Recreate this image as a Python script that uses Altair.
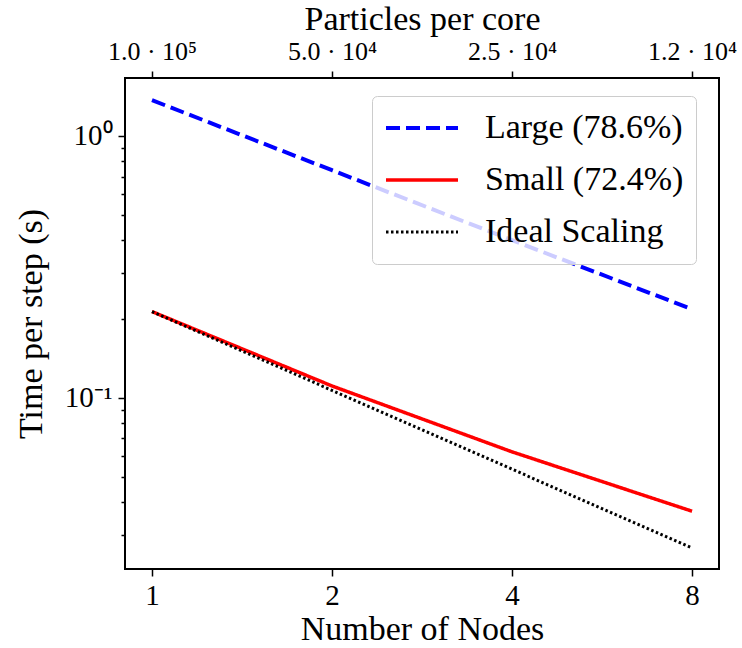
import altair as alt
import pandas as pd

# ---- data ----
nodes = [1, 2, 4, 8]
large = [1.37, 0.74, 0.40, 0.218]
small = [0.2135, 0.111, 0.0622, 0.0369]
ideal = [0.2135, 0.1068, 0.0534, 0.0267]
series_names = ["Large (78.6%)", "Small (72.4%)", "Ideal Scaling"]
series_colors = ["#0000ff", "#ff0000", "#000000"]
top_labels = ["1.0 · 10⁵", "5.0 · 10⁴", "2.5 · 10⁴", "1.2 · 10⁴"]
y_major = [0.1, 1.0]
y_major_labels = ["10⁻¹", "10⁰"]
y_ticks = [0.03, 0.04, 0.05, 0.06, 0.07, 0.08, 0.09,
           0.1, 0.2, 0.3, 0.4, 0.5, 0.6, 0.7, 0.8, 0.9, 1.0]

rows = []
for name, vals in zip(series_names, [large, small, ideal]):
    for n, v in zip(nodes, vals):
        rows.append({"nodes": n, "time": v, "series": name})
df = pd.DataFrame(rows)
top_df = pd.DataFrame({"nodes": nodes, "label": top_labels})

FONT = "Liberation Serif"
FS = 29      # tick labels
TFS = 34     # axis titles
LFS = 34     # legend labels

x_scale = alt.Scale(type="log", base=2, domain=[0.9013, 8.876], nice=False)
y_scale = alt.Scale(type="log", domain=[0.0222, 1.665], nice=False)

def ternary(values, labels):
    expr = "''"
    for v, l in reversed(list(zip(values, labels))):
        expr = f"abs(datum.value - {v}) < 1e-9 ? '{l}' : ({expr})"
    return expr

y_major_test = " || ".join(f"abs(datum.value - {v}) < 1e-9" for v in y_major)

leg = alt.Legend(
    title=None, orient="none", legendX=247, legendY=18,
    symbolType="stroke", symbolSize=5184, labelFontSize=LFS, labelFont=FONT,
    labelOffset=25, padding=12, rowPadding=12, clipHeight=40, labelLimit=0,
    fillColor="rgba(255,255,255,0.8)", strokeColor="#cccccc", cornerRadius=5,
    labelColor="black",
)

lines = alt.Chart(df).mark_line(strokeCap="butt", clip=True).encode(
    x=alt.X("nodes:Q", scale=x_scale,
            axis=alt.Axis(orient="bottom", values=nodes, title="Number of Nodes",
                          format="d", labelPadding=5, titlePadding=2, tickSize=7,
                          titleFont=FONT, titleFontSize=TFS, labelFont=FONT)),
    y=alt.Y("time:Q", scale=y_scale,
            axis=alt.Axis(values=y_ticks, labelExpr=ternary(y_major, y_major_labels),
                          tickSize={"condition": {"test": y_major_test, "value": 7}, "value": 4},
                          title="Time per step (s)", titlePadding=16, labelPadding=6,
                          labelFontSize=29,
                          titleFont=FONT, titleFontSize=TFS, labelFont=FONT)),
    color=alt.Color("series:N", scale=alt.Scale(domain=series_names, range=series_colors), legend=leg),
    strokeDash=alt.StrokeDash("series:N",
                              scale=alt.Scale(domain=series_names, range=[[14, 6], [1, 0], [2.5, 2.5]]),
                              legend=leg),
    strokeWidth=alt.StrokeWidth("series:N",
                                scale=alt.Scale(domain=series_names, range=[4, 3, 2.5]),
                                legend=leg),
)

top = alt.Chart(top_df).mark_point(opacity=0).encode(
    x=alt.X("nodes:Q", scale=x_scale,
            axis=alt.Axis(orient="top", values=nodes, labelExpr=ternary(nodes, top_labels),
                          title="Particles per core", labelPadding=7, titlePadding=2, tickSize=7,
                          labelFontSize=26,
                          titleFont=FONT, titleFontSize=TFS, labelFont=FONT)),
    y=alt.value(0),
)

chart = alt.layer(lines, top).resolve_axis(x="independent").properties(
    width=594, height=491,
    autosize=alt.AutoSizeParams(type="none"),
    padding={"left": 125, "top": 78, "right": 23, "bottom": 79},
).configure_view(stroke="black", strokeWidth=2).configure_axis(
    domain=False, grid=False,
    labelFont=FONT, titleFont=FONT, labelFontSize=FS, titleFontSize=TFS,
    labelColor="black", titleColor="black", titleFontWeight="normal",
    tickColor="black", tickWidth=1.5,
)

chart.save("out.html", embed_options={"renderer": "svg", "actions": False})
